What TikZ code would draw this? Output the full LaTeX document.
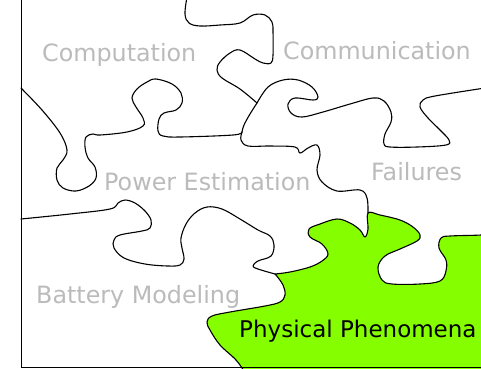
\documentclass[tikz,border=0pt]{standalone}
\usepackage{fontspec}
\setmainfont{DejaVu Sans}
\definecolor{lbl}{RGB}{187,187,187}
\definecolor{phys}{RGB}{133,255,0}
\begin{document}
\begin{tikzpicture}[x=1pt,y=-1pt,
  edge/.style={line width=1.1pt, line join=round, line cap=round},
  lab/.style={anchor=base west, inner sep=0pt, font=\fontsize{23.8}{28}\selectfont, text=lbl}]
\fill[white] (0,0) rectangle (481,368);
\useasboundingbox (0,0) rectangle (481,368);
% green piece
\draw[edge, fill=phys] plot[smooth,tension=.6] coordinates {(275,274) (290,272) (310,267) (322,261) (328,254) (322,244) (310,237) (309,229) (320,224) (337,219) (350,223) (360,230) (365,237) (368,229) (368,213) (380,215) (400,220) (413,227) (420,235) (417,241) (400,249) (385,256) (378,267) (382,280) (392,284) (420,284) (440,281) (446,271) (446,260) (439,248) (441,238) (450,236) (481,235) (500,233)}
  -- (500,390) -- (238,390) --
  plot[smooth,tension=.6] coordinates {(246,374) (236,360) (220,345) (210,330) (207,322) (212,316) (230,312) (265,306) (280,302) (285,295) (283,285) (276,275)} -- cycle;
% Computation / Communication
\draw[edge] plot[smooth,tension=.6] coordinates {(187,-3) (185,14) (189,23) (200,26) (220,25) (240,23) (253,15) (265,15) (272,22) (273,32) (273,55) (271,63) (263,63) (255,59) (240,50) (230,53) (220,62) (217,70) (222,78) (240,89) (257,103)};
\draw[edge] plot[smooth,tension=.6] coordinates {(257,103) (250,114) (244,125) (242,132)};
% Computation / Power Estimation
\draw[edge] plot[smooth,tension=.6] coordinates {(21,88) (42,110) (60,133) (67,150) (63,160) (57,168) (57,180) (63,188) (76,191) (89,186) (96,178) (95,167) (88,158) (85,147) (86,137) (93,134) (100,135) (127,132) (143,126) (143,118) (136,107) (132,98) (137,89) (147,82) (156,79) (172,84) (181,93) (182,103) (176,110) (164,113) (159,119) (158,131) (163,136) (180,137) (233,135) (242,132)};
% Power Estimation / Failures
\draw[edge] plot[smooth,tension=.6] coordinates {(242,132) (241,140) (248,146) (270,146) (295,147) (300,153) (308,148) (317,145) (320,155) (317,170) (322,182) (337,191) (360,190) (367,198) (368,213)};
% Communication / Failures
\draw[edge] plot[smooth,tension=.6] coordinates {(257,103) (268,87) (283,80) (298,80) (312,87) (318,97) (313,100) (295,98) (288,104) (291,113) (302,117) (323,112) (350,104) (373,98) (384,101) (391,112) (391,122) (385,134) (384,144) (390,147) (417,147) (446,145) (449,140) (440,130) (428,118) (420,107) (423,100) (435,96) (485,88)};
% Power Estimation / Battery Modeling
\draw[edge] plot[smooth,tension=.6] coordinates {(21,219) (70,214) (110,209) (118,203) (125,200) (135,203) (145,211) (151,220) (150,228) (142,231) (120,235) (114,240) (114,248) (124,258) (145,264) (168,266) (180,265) (184,259) (182,248) (181,238) (186,224) (195,213) (207,207) (222,209) (240,219) (258,230) (270,236) (274,245) (271,256) (258,261) (253,266) (258,269) (275,274)};
% labels
\node[lab] (comp) at (42,61) {Computation};
\node[lab] (comm) at (283,59) {Communication};
\node[lab] (power) at (104,190) {Power Estimation};
\node[lab] (fail) at (371,180) {Failures};
\node[lab] (batt) at (36,303) {Battery Modeling};
\node[lab, text=black, font=\fontsize{23}{28}\selectfont] (phys) at (239,337) {Physical Phenomena};
% frame
\draw[line width=1pt] (21.5,-5) -- (21.5,367) -- (490,367);
\end{tikzpicture}
\end{document}
